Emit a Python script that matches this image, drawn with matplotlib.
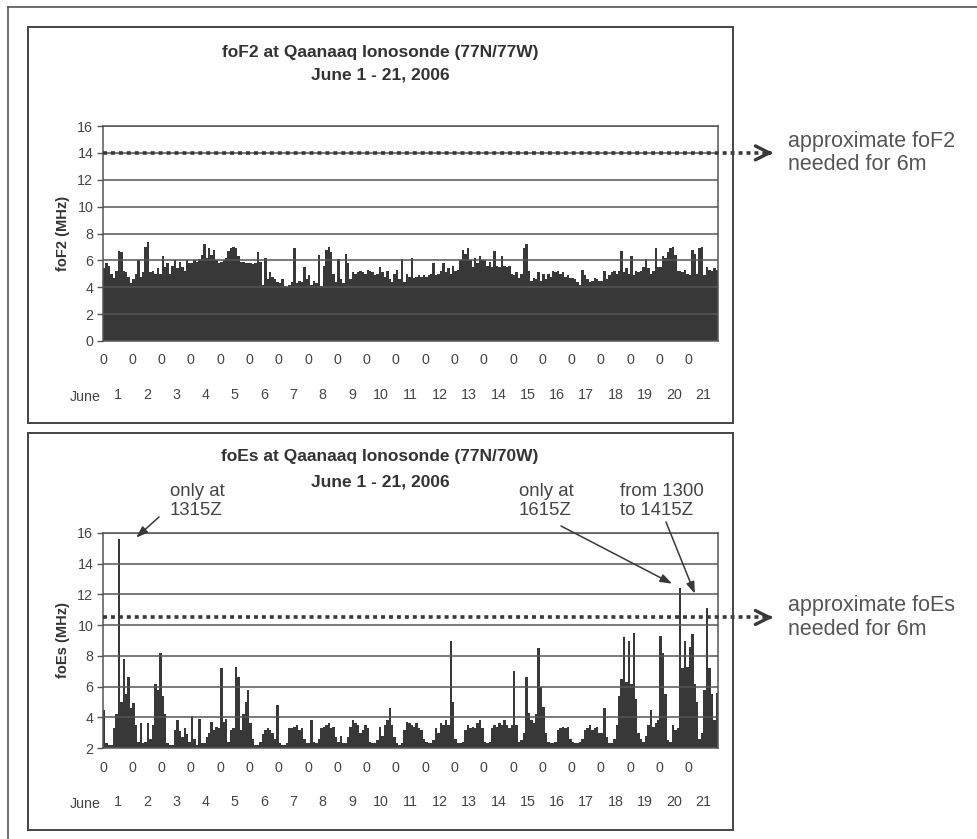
import numpy as np
import matplotlib
matplotlib.use("Agg")
import matplotlib.pyplot as plt
import matplotlib.transforms as mtransforms
from matplotlib.patches import Rectangle
from matplotlib.lines import Line2D

W, H = 977, 839

# June 1..21, one value per 2-hour slot (MHz)
days = [str(d) for d in range(1, 22)]
SLOTS = 12

fof2_by_day = [
    [5.4, 5.8, 5.6, 5.0, 4.7, 5.2, 6.7, 6.6, 5.2, 5.1, 4.8, 4.3],
    [4.6, 5.0, 6.0, 4.8, 5.1, 7.0, 7.4, 5.1, 5.2, 5.0, 5.4, 5.0],
    [6.3, 5.5, 5.8, 5.0, 5.6, 6.0, 5.4, 5.9, 5.5, 5.2, 6.0, 5.8],
    [5.8, 6.0, 5.9, 6.1, 6.4, 7.2, 6.2, 6.9, 6.4, 6.8, 6.0, 5.8],
    [5.9, 6.0, 6.2, 6.7, 6.9, 7.0, 6.9, 6.3, 5.9, 5.9, 5.8, 5.8],
    [5.8, 5.7, 5.8, 6.6, 5.9, 4.2, 6.2, 4.6, 5.1, 4.8, 4.6, 4.4],
    [4.3, 4.6, 4.1, 4.0, 4.2, 4.4, 6.9, 4.3, 4.5, 4.4, 5.5, 4.6],
    [4.9, 4.2, 4.5, 4.3, 6.4, 4.1, 5.6, 6.8, 7.0, 6.6, 5.0, 4.4],
    [6.1, 4.6, 4.3, 6.5, 5.8, 4.6, 5.1, 5.0, 5.1, 5.2, 5.1, 5.0],
    [5.3, 5.2, 5.1, 4.9, 5.0, 5.5, 5.1, 4.8, 5.2, 4.6, 4.4, 5.0],
    [5.3, 4.6, 6.1, 4.4, 5.0, 4.8, 6.2, 4.7, 4.8, 4.9, 4.8, 4.9],
    [4.8, 4.9, 5.0, 5.8, 4.9, 5.0, 5.2, 5.8, 5.1, 5.4, 5.0, 5.6],
    [5.2, 5.3, 6.0, 6.8, 6.5, 6.9, 6.0, 5.5, 6.2, 5.8, 6.3, 6.0],
    [6.0, 5.6, 5.9, 5.5, 6.7, 5.6, 5.5, 6.3, 5.6, 5.5, 5.6, 5.0],
    [4.9, 5.1, 4.7, 5.0, 6.9, 7.2, 5.2, 4.5, 4.7, 4.6, 5.1, 4.5],
    [5.0, 4.6, 5.0, 4.8, 5.2, 5.1, 5.2, 5.0, 5.1, 4.8, 4.9, 4.7],
    [4.7, 4.6, 4.4, 4.2, 5.3, 4.9, 4.6, 4.4, 4.5, 4.7, 4.6, 4.5],
    [4.5, 5.2, 4.6, 4.9, 5.1, 5.2, 5.0, 5.2, 6.7, 5.1, 5.4, 5.0],
    [6.3, 4.9, 5.2, 5.1, 5.2, 5.5, 6.1, 5.4, 5.0, 5.2, 6.9, 5.5],
    [5.5, 6.3, 6.2, 6.6, 6.9, 7.0, 6.4, 5.2, 5.2, 5.1, 5.3, 5.0],
    [4.9, 6.8, 6.5, 5.0, 6.9, 7.0, 4.9, 5.5, 5.3, 5.2, 5.4, 5.3],
]

foes_by_day = [
    [4.5, 2.3, 2.2, 2.2, 3.3, 4.2, 15.6, 5.0, 7.8, 5.5, 6.6, 4.6],
    [4.9, 3.5, 2.4, 3.6, 2.3, 2.4, 3.6, 2.6, 3.5, 6.2, 5.8, 8.2],
    [5.4, 4.2, 2.3, 2.2, 2.2, 3.2, 3.8, 3.1, 2.7, 3.3, 2.9, 2.4],
    [4.1, 2.6, 2.2, 3.9, 2.3, 2.3, 2.7, 3.0, 3.7, 3.2, 3.4, 3.3],
    [7.2, 3.7, 3.9, 2.4, 3.2, 3.3, 7.3, 6.6, 3.2, 4.2, 5.0, 5.8],
    [3.6, 2.6, 2.2, 2.2, 2.4, 2.9, 3.2, 3.3, 3.2, 3.0, 2.6, 4.8],
    [2.3, 2.2, 2.2, 2.3, 3.3, 3.3, 3.4, 3.5, 3.2, 3.3, 2.6, 2.3],
    [2.3, 3.8, 2.4, 2.3, 2.6, 3.3, 3.4, 3.5, 3.6, 3.3, 3.4, 2.7],
    [2.4, 2.8, 2.3, 2.3, 2.7, 3.4, 3.8, 3.6, 3.5, 3.0, 3.2, 3.5],
    [3.3, 2.4, 2.3, 2.3, 2.5, 3.4, 2.8, 3.5, 3.8, 4.6, 3.5, 2.7],
    [2.3, 2.2, 2.3, 3.2, 3.7, 3.6, 3.5, 3.4, 3.6, 3.3, 3.2, 2.6],
    [2.4, 2.3, 2.3, 2.5, 3.3, 3.0, 3.6, 3.5, 3.8, 3.5, 9.0, 5.0],
    [2.6, 2.3, 2.3, 2.4, 3.2, 3.5, 3.3, 3.4, 3.3, 3.6, 3.8, 3.3],
    [2.4, 2.3, 2.4, 3.3, 3.5, 3.4, 3.6, 3.5, 3.8, 3.5, 3.3, 3.5],
    [7.0, 3.5, 2.4, 2.5, 3.0, 6.6, 4.3, 3.8, 3.6, 4.2, 8.5, 6.0],
    [4.7, 3.0, 2.4, 2.3, 2.3, 2.4, 3.2, 3.3, 3.4, 3.3, 3.4, 2.6],
    [2.4, 2.3, 2.3, 2.4, 2.6, 3.2, 3.3, 3.5, 3.2, 3.3, 3.4, 3.0],
    [3.0, 4.6, 2.7, 2.3, 2.3, 2.6, 3.5, 5.4, 6.5, 9.2, 6.3, 9.0],
    [6.2, 9.5, 5.2, 3.0, 2.6, 2.4, 2.8, 3.5, 4.5, 3.4, 3.6, 3.8],
    [9.3, 8.2, 5.5, 2.5, 2.4, 3.5, 3.2, 3.3, 12.4, 7.2, 9.0, 7.3],
    [8.6, 9.4, 6.2, 5.0, 2.6, 3.0, 5.8, 11.1, 7.2, 5.5, 3.8, 5.6],
]

FOF2_6M = 14.0
FOES_6M = 10.5

plt.rcParams["font.family"] = ["Liberation Sans", "DejaVu Sans"]

INK = "#383838"
GRID = "#555555"
TXT = "#444444"

PLOT_L, PLOT_R = 103, 718


def px(x, y):
    return x / W, 1 - y / H


def ax_x(p):
    return (p - PLOT_L) / (PLOT_R - PLOT_L)


fig = plt.figure(figsize=(W / 100, H / 100), dpi=100)
fig.patch.set_facecolor("white")


def make_axes(top, bottom):
    l, b = px(PLOT_L, bottom)
    r, t = px(PLOT_R, top)
    return fig.add_axes([l, b, r - l, t - b])


def draw_panel(ax, by_day, ymin, level, ylabel, note):
    vals = np.asarray(by_day, dtype=float).ravel()
    x = np.arange(vals.size) / SLOTS
    ax.bar(x, vals, width=1 / SLOTS, align="edge", color=INK, linewidth=0)
    ax.set_xlim(0, len(days))
    ax.set_ylim(ymin, 16)
    ax.set_yticks(np.arange(ymin, 17, 2))
    ax.set_axisbelow(False)
    ax.yaxis.grid(True, color=GRID, lw=1.1)
    for s in ax.spines.values():
        s.set_color(GRID)
        s.set_linewidth(1.1)

    ax.set_xticks(np.arange(len(days)), labels=["0"] * len(days))
    ax.set_xticks(np.arange(len(days)) + 0.5, labels=days, minor=True)
    ax.tick_params(axis="x", which="major", length=0, pad=9, labelsize=10.3, labelcolor=TXT)
    ax.tick_params(axis="x", which="minor", length=0, pad=34, labelsize=10.3, labelcolor=TXT)
    ax.tick_params(axis="y", length=4, width=1, color=GRID, pad=3, labelsize=10.3, labelcolor=TXT)
    ax.text(ax_x(85), -56 / 215, "June", transform=ax.transAxes, ha="center", va="center",
            fontsize=10.3, color=TXT)

    ax.set_ylabel(ylabel, fontsize=10.5, fontweight="bold", color="#333333")
    ax.yaxis.set_label_coords(ax_x(70), 0.5)

    # dotted threshold line running out to the side note
    trans = mtransforms.blended_transform_factory(ax.transAxes, ax.transData)
    ax.plot([0, ax_x(766)], [level, level], transform=trans, clip_on=False,
            color=INK, lw=2.6, ls=(0, (1.1, 1.1)), zorder=5)
    ax.annotate("", xy=(ax_x(773), level), xycoords=trans,
                xytext=(ax_x(769), level), textcoords=trans,
                arrowprops=dict(arrowstyle="->,head_length=1.0,head_width=0.5",
                                lw=2.4, color=INK, shrinkA=0, shrinkB=0),
                annotation_clip=False)
    ax.text(ax_x(788), level, note, transform=trans, ha="left", va="center",
            fontsize=15.5, color="#555555", linespacing=1.15)


ax1 = make_axes(126, 341)
ax2 = make_axes(533, 748)

draw_panel(ax1, fof2_by_day, 0, FOF2_6M, "foF2 (MHz)", "approximate foF2\nneeded for 6m")
draw_panel(ax2, foes_by_day, 2, FOES_6M, "foEs (MHz)", "approximate foEs\nneeded for 6m")

titles = [
    (53, "foF2 at Qaanaaq Ionosonde (77N/77W)"),
    (75, "June 1 - 21, 2006"),
    (457, "foEs at Qaanaaq Ionosonde (77N/70W)"),
    (482, "June 1 - 21, 2006"),
]
for y, t in titles:
    fig.text(*px(380, y), t, ha="center", va="center", fontsize=12.5,
             fontweight="bold", color="#333333")

notes = [
    ("only at\n1315Z", (170, 501), (159, 517), (1.13, 15.7)),
    ("only at\n1615Z", (519, 501), (561, 526), (19.43, 12.7)),
    ("from 1300\nto 1415Z", (620, 501), (666, 522), (20.21, 12.05)),
]
for text, tpos, start, tip in notes:
    fig.text(*px(*tpos), text, ha="left", va="center", fontsize=13.4,
             color=TXT, linespacing=1.15)
    ax2.annotate("", xy=tip, xycoords="data", xytext=px(*start),
                 textcoords="figure fraction",
                 arrowprops=dict(arrowstyle="-|>,head_length=0.7,head_width=0.25",
                                 lw=1.1, color=INK, shrinkA=0, shrinkB=0),
                 annotation_clip=False)

# panel boxes and outer frame
for top, bottom in [(27, 423), (433, 830)]:
    fig.add_artist(Rectangle(px(28, bottom), (733 - 28) / W, (bottom - top) / H,
                             transform=fig.transFigure, fill=False, lw=1.4, ec="#444444"))
fig.add_artist(Line2D([8 / W, 1], [1 - 7 / H] * 2, transform=fig.transFigure,
                      color="#555555", lw=1.2))
fig.add_artist(Line2D([8 / W] * 2, [1 - 7 / H, 0], transform=fig.transFigure,
                      color="#555555", lw=1.2))

fig.savefig("out.png", dpi=100, facecolor="white")
